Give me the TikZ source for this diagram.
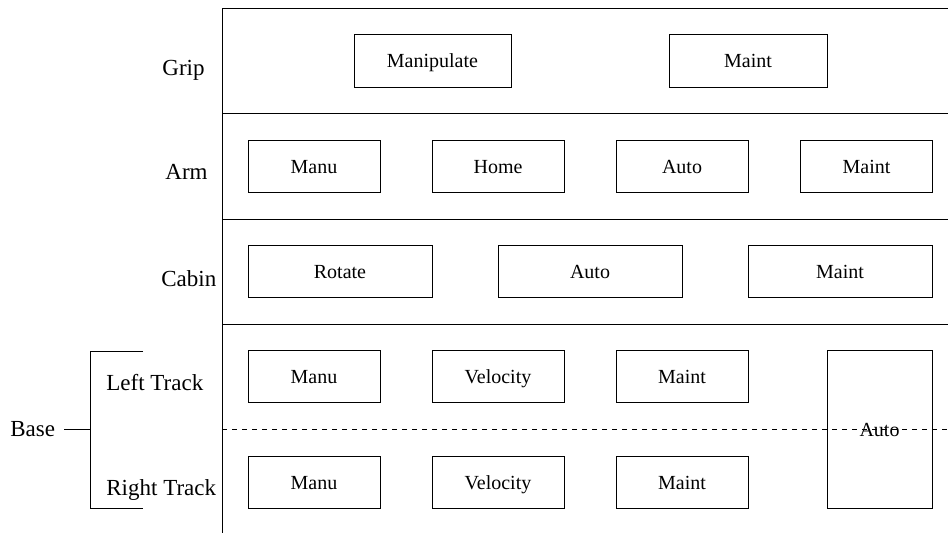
\documentclass[tikz,border=0pt]{standalone}
\usepackage{fontspec}
\setmainfont{Liberation Serif}
\begin{document}
\begin{tikzpicture}[x=1pt,y=-1pt,line width=0.8pt,
  box/.style={draw, inner sep=0pt, font=\fontsize{20}{24}\selectfont, text height=14pt, text depth=0pt, anchor=center},
  smallbox/.style={box, minimum width=132pt, minimum height=52pt},
  widebox/.style={box, minimum width=184pt, minimum height=52pt},
  lab/.style={inner sep=0pt, font=\fontsize{23}{27}\selectfont, anchor=base west},
  sep/.style={line width=0.8pt},
  trackline/.style={dash pattern=on 5pt off 5pt}]
\useasboundingbox (0,0) rectangle (948,533);
% frame
\coordinate (tl) at (222,8);
\coordinate (bl) at (222,533);
\draw[sep] (948,8) -- (tl) -- (bl);
\draw[sep] (222,113) -- (948,113);
\draw[sep] (222,219) -- (948,219);
\draw[sep] (222,324) -- (948,324);
% row labels
\node[lab] (grip) at (162,75) {Grip};
\node[lab] (arm) at (165,179.3) {Arm};
\node[lab] (cabin) at (161,286) {Cabin};
\node[lab] (lt) at (106,390.7) {Left Track};
\node[lab] (rt) at (106,495.7) {Right Track};
\node[lab] (base) at (10,436) {Base};
% bracket
\coordinate (bt) at (90,351);
\coordinate (bb) at (90,508);
\coordinate (bm) at (90,429);
\draw (143,351) -- (bt) -- (bb) -- (143,508);
\draw (64,429) -- (bm);
% grip
\node[box, minimum width=157pt, minimum height=53pt] (manip) at (432.5,60.7) {Manipulate};
\node[box, minimum width=158pt, minimum height=53pt] (gmaint) at (748,60.7) {Maint};
% arm
\node[smallbox] (amanu) at (314,166.3) {Manu};
\node[smallbox] (ahome) at (498,166.3) {Home};
\node[smallbox] (aauto) at (682,166.3) {Auto};
\node[smallbox] (amaint) at (866.5,166.3) {Maint};
% cabin
\node[widebox] (crot) at (340,271.7) {Rotate};
\node[widebox] (cauto) at (590,271.7) {Auto};
\node[widebox] (cmaint) at (840,271.7) {Maint};
% left track
\node[smallbox] (lmanu) at (314,376.7) {Manu};
\node[smallbox] (lvel) at (498,376.7) {Velocity};
\node[smallbox] (lmaint) at (682,376.7) {Maint};
% right track
\node[smallbox] (rmanu) at (314,482) {Manu};
\node[smallbox] (rvel) at (498,482) {Velocity};
\node[smallbox] (rmaint) at (682,482) {Maint};
% base auto
\node[box, minimum width=105pt, minimum height=158pt] (bauto) at (879.5,429.5) {Auto};
% dashed separator
\draw[trackline] (222,429) -- (948,429);
\end{tikzpicture}
\end{document}
